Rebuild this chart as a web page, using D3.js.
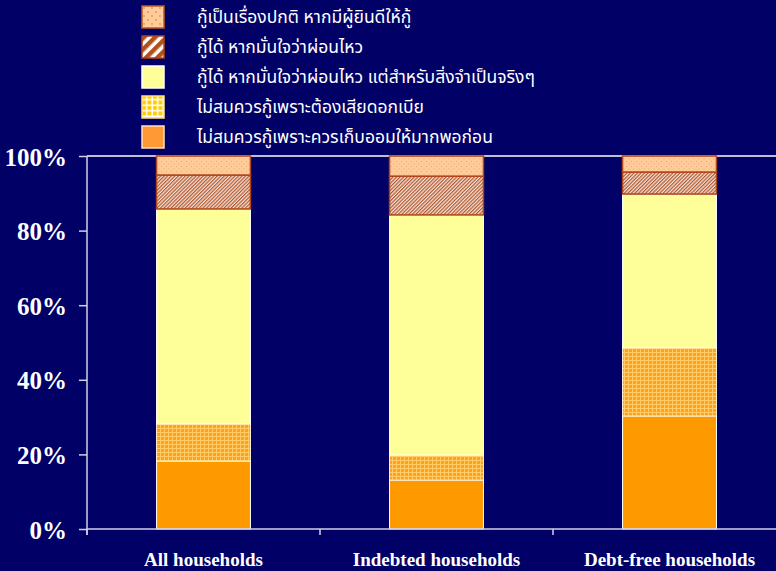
<!DOCTYPE html>
<html>
<head>
<meta charset="utf-8">
<script src="https://cdn.jsdelivr.net/npm/d3@7/dist/d3.min.js"></script>
<style>
  html, body { margin: 0; padding: 0; background: #000066; }
  svg { display: block; }
</style>
</head>
<body>
<svg id="chart" width="776" height="571"></svg>
<script>
// Household groups along the x axis
const categories = ["All households", "Indebted households", "Debt-free households"];

// Reasons, bottom of the stack first (percent of households)
const seriesNames = [
  "ไม่สมควรกู้เพราะควรเก็บออมให้มากพอก่อน",
  "ไม่สมควรกู้เพราะต้องเสียดอกเบีย",
  "กู้ได้ หากมั่นใจว่าผ่อนไหว แต่สำหรับสิ่งจำเป็นจริงๆ",
  "กู้ได้ หากมั่นใจว่าผ่อนไหว",
  "กู้เป็นเรื่องปกติ หากมีผู้ยินดีให้กู้"
];
const saveFirst    = [18.2, 13.1, 30.3];
const interestCost = [10.0, 6.7, 18.3];
const essentials   = [57.6, 64.4, 41.2];
const ifAffordable = [9.1, 10.4, 5.9];
const normal       = [5.1, 5.4, 4.3];
const seriesValues = [saveFirst, interestCost, essentials, ifAffordable, normal];

const yTicks = [0, 20, 40, 60, 80, 100];

// Legend lists the series top of stack first
const legendOrder = [4, 3, 2, 1, 0];

const svg = d3.select("#chart");
const W = 776, H = 571;
const plotLeft = 87, bandEnd = 786, plotTop = 156, plotBottom = 529;

const defs = svg.append("defs");

// Dotted peach fill
const pDots = defs.append("pattern").attr("id", "dots").attr("patternUnits", "userSpaceOnUse")
  .attr("width", 5).attr("height", 5);
pDots.append("rect").attr("width", 5).attr("height", 5).attr("fill", "#FFCC99");
pDots.append("rect").attr("x", 1).attr("y", 1).attr("width", 1).attr("height", 1).attr("fill", "#E8A878");
pDots.append("rect").attr("x", 3.5).attr("y", 3.5).attr("width", 1).attr("height", 1).attr("fill", "#E8A878");

const pDotsL = defs.append("pattern").attr("id", "dotsL").attr("patternUnits", "userSpaceOnUse")
  .attr("width", 8).attr("height", 8);
pDotsL.append("rect").attr("width", 8).attr("height", 8).attr("fill", "#FFCC99");
pDotsL.append("circle").attr("cx", 2).attr("cy", 2).attr("r", 0.8).attr("fill", "#CC7744");
pDotsL.append("circle").attr("cx", 6).attr("cy", 6).attr("r", 0.8).attr("fill", "#CC7744");

// Fine diagonal brown/white hatch
const pHatch = defs.append("pattern").attr("id", "hatch").attr("patternUnits", "userSpaceOnUse")
  .attr("width", 2.5).attr("height", 2.5).attr("patternTransform", "rotate(45)");
pHatch.append("rect").attr("width", 2.5).attr("height", 2.5).attr("fill", "#F4E4DC");
pHatch.append("rect").attr("width", 1.25).attr("height", 2.5).attr("fill", "#B45A30");

const pHatchL = defs.append("pattern").attr("id", "hatchL").attr("patternUnits", "userSpaceOnUse")
  .attr("width", 8).attr("height", 8).attr("patternTransform", "rotate(45)");
pHatchL.append("rect").attr("width", 8).attr("height", 8).attr("fill", "#FFFFFF");
pHatchL.append("rect").attr("width", 4.5).attr("height", 8).attr("fill", "#B4501A");

// Orange fill with a light grid
const pGrid = defs.append("pattern").attr("id", "grid").attr("patternUnits", "userSpaceOnUse")
  .attr("width", 4).attr("height", 4);
pGrid.append("rect").attr("width", 4).attr("height", 4).attr("fill", "#FFA020");
pGrid.append("rect").attr("width", 4).attr("height", 1).attr("fill", "#FFCC66");
pGrid.append("rect").attr("width", 1).attr("height", 4).attr("fill", "#FFCC66");

const pGridL = defs.append("pattern").attr("id", "gridL").attr("patternUnits", "userSpaceOnUse")
  .attr("width", 5.5).attr("height", 5.5).attr("x", 142).attr("y", 97);
pGridL.append("rect").attr("width", 5.5).attr("height", 5.5).attr("fill", "#FFFFFF");
pGridL.append("rect").attr("x", 1).attr("y", 1).attr("width", 4).attr("height", 4).attr("fill", "#FFCC00");

const fills = ["#FF9900", "url(#grid)", "#FFFF99", "url(#hatch)", "url(#dots)"];
const strokes = ["#FFFFFF", "#FFF4D0", "#FFFFFF", "#B0441A", "#B0441A"];
const legendFills = ["#FF9933", "url(#gridL)", "#FFFF99", "url(#hatchL)", "url(#dotsL)"];
const legendStrokes = ["#FFE0C0", "#FFE080", "#FFFFFF", "#B0441A", "#C05A20"];

const x = d3.scaleBand().domain(categories).range([plotLeft, bandEnd]).paddingInner(0).paddingOuter(0);
const y = d3.scaleLinear().domain([0, 100]).range([plotBottom, plotTop]);
const barW = x.bandwidth() * 0.403;

// Stack the series
const table = categories.map((c, i) => {
  const row = { cat: c };
  seriesValues.forEach((s, k) => row["s" + k] = s[i]);
  return row;
});
const stack = d3.stack().keys(seriesValues.map((_, k) => "s" + k));
const layers = stack(table);

// 100% reference line
svg.append("line").attr("x1", plotLeft).attr("x2", W).attr("y1", y(100)).attr("y2", y(100))
  .attr("stroke", "#FFFFFF").attr("stroke-width", 1.5);

// Bars
layers.forEach((layer, k) => {
  svg.append("g").selectAll("rect").data(layer).join("rect")
    .attr("x", d => x(d.data.cat) + (x.bandwidth() - barW) / 2)
    .attr("width", barW)
    .attr("y", d => y(d[1]))
    .attr("height", d => y(d[0]) - y(d[1]))
    .attr("fill", fills[k])
    .attr("stroke", strokes[k])
    .attr("stroke-width", k >= 3 ? 1.5 : 1);
});

// Y axis
const yAxis = d3.axisLeft(y).tickValues(yTicks).tickFormat(d => d + "%").tickSize(8).tickPadding(12);
const gy = svg.append("g").attr("transform", `translate(${plotLeft},0)`).call(yAxis);
gy.select(".domain").remove();
gy.selectAll(".tick line").attr("stroke", "#D0D0E8").attr("stroke-width", 1.5);
gy.selectAll(".tick text").attr("fill", "#FFFFFF")
  .attr("font-family", "'Liberation Serif', 'Times New Roman', serif")
  .attr("font-weight", "bold").attr("font-size", 25).attr("dy", "0.36em");
svg.append("line").attr("x1", plotLeft).attr("x2", plotLeft).attr("y1", plotTop).attr("y2", plotBottom + 6)
  .attr("stroke", "#D0D0E8").attr("stroke-width", 1.5);

// X axis with ticks at band boundaries
svg.append("line").attr("x1", plotLeft).attr("x2", W).attr("y1", plotBottom).attr("y2", plotBottom)
  .attr("stroke", "#D0D0E8").attr("stroke-width", 1.5);
svg.append("g").selectAll("line").data(categories).join("line")
  .attr("x1", d => x(d)).attr("x2", d => x(d))
  .attr("y1", plotBottom).attr("y2", plotBottom + 6)
  .attr("stroke", "#D0D0E8").attr("stroke-width", 1.5);
svg.append("g").selectAll("text").data(categories).join("text")
  .attr("x", d => x(d) + x.bandwidth() / 2)
  .attr("y", 566)
  .attr("text-anchor", "middle")
  .attr("fill", "#FFFFFF")
  .attr("font-family", "'Liberation Serif', 'Times New Roman', serif")
  .attr("font-weight", "bold").attr("font-size", 19)
  .text(d => d);

// Legend
const lg = svg.append("g").selectAll("g").data(legendOrder).join("g")
  .attr("transform", (d, i) => `translate(142,${6 + i * 30})`);
lg.append("rect").attr("width", 22).attr("height", 22)
  .attr("fill", d => legendFills[d]).attr("stroke", d => legendStrokes[d]).attr("stroke-width", 1.5);
lg.append("text").attr("x", 55).attr("y", 17)
  .attr("fill", "#FFFFFF")
  .attr("font-family", "Tahoma, 'Noto Sans Thai', 'Noto Sans', 'DejaVu Sans', sans-serif")
  .attr("font-size", 17.5)
  .text(d => seriesNames[d]);
</script>
</body>
</html>
